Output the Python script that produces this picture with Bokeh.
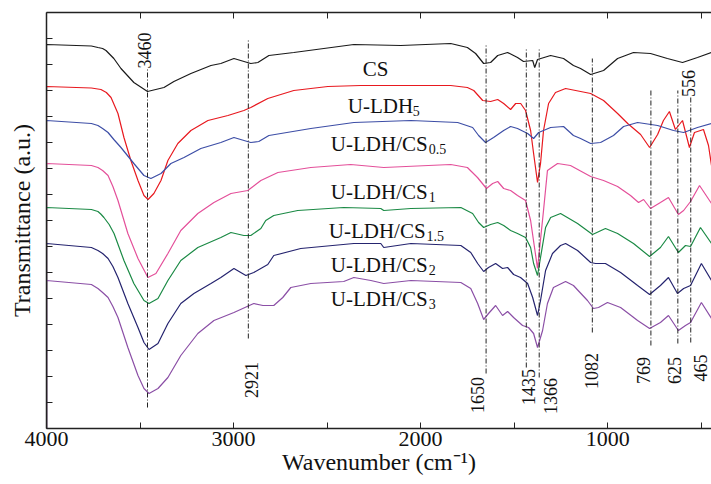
import numpy as np
from bokeh.plotting import figure
from bokeh.models import Range1d, LinearAxis, FixedTicker
from bokeh.core.properties import value
from bokeh.embed import file_html
from bokeh.resources import INLINE

FONT = "Liberation Serif"

# ---- spectra (wavenumber, transmittance in arbitrary offset units) ----
cs_wn = [4000, 3760, 3725, 3700, 3682, 3640, 3602, 3533, 3460, 3372, 3319, 3228, 3121, 3068, 2998, 2908,
         2870, 2811, 2678, 2357, 2106, 1839, 1750, 1706, 1663, 1626, 1588, 1535, 1482, 1450, 1401, 1390,
         1375, 1305, 1236, 1183, 1145, 1091, 1022, 947, 862, 771, 681, 600, 520, 445]
cs_t = [384, 382.5, 381, 380, 378, 370, 360, 346, 337, 341, 347, 355, 363, 365, 370, 365,
        366, 373, 376, 384, 383, 385, 381, 375, 365, 366, 373, 376, 371, 367, 368, 361,
        369, 373, 370, 363, 360, 354, 358, 370, 376, 375, 370, 366, 371, 376]

ldh5_wn = [4000, 3760, 3709, 3680, 3655, 3618, 3586, 3549, 3511, 3479, 3457, 3426, 3388, 3351, 3298, 3228,
           3137, 3030, 2945, 2908, 2817, 2678, 2496, 2320, 1839, 1750, 1716, 1668, 1626, 1588, 1556, 1519,
           1492, 1465, 1439, 1412, 1396, 1375, 1359, 1343, 1316, 1279, 1225, 1091, 1022, 947, 893, 824,
           776, 733, 702, 670, 638, 600, 563, 536, 488, 461, 445]
ldh5_t = [342, 340.5, 339, 336, 331, 315, 291, 268, 248, 233, 229, 235, 248, 268, 285, 298,
          308, 313, 318, 321, 330, 338, 342, 343, 343, 341, 338, 328, 327, 329, 325, 319,
          325, 325, 318, 298, 275, 246, 265, 298, 325, 336, 340, 335, 328, 315, 305, 294,
          281, 294, 308, 317, 299, 308, 281, 296, 299, 283, 263]

cs05_wn = [4000, 3760, 3725, 3700, 3671, 3640, 3602, 3533, 3479, 3442, 3388, 3335, 3265, 3175, 3068, 2998,
           2908, 2865, 2811, 2587, 2357, 2052, 1802, 1722, 1690, 1653, 1610, 1556, 1519, 1482, 1428, 1396,
           1369, 1305, 1236, 1183, 1145, 1091, 1038, 969, 915, 840, 733, 648, 594, 520, 445]
cs05_t = [308, 305, 303, 300, 296, 289, 281, 265, 253, 250, 255, 265, 271, 280, 286, 291,
          286, 287, 293, 300, 306, 308, 306, 301, 293, 286, 291, 298, 302, 300, 295, 290,
          296, 301, 302, 293, 290, 285, 286, 293, 302, 306, 303, 298, 296, 301, 305]

cs1_wn = [4000, 3760, 3725, 3700, 3671, 3645, 3618, 3565, 3511, 3458, 3415, 3351, 3282, 3191, 3105, 3014,
          2924, 2854, 2763, 2587, 2374, 2197, 1839, 1750, 1696, 1648, 1615, 1588, 1556, 1519, 1482, 1439,
          1412, 1375, 1343, 1322, 1268, 1199, 1091, 1022, 947, 878, 835, 808, 771, 718, 675, 622,
          594, 557, 509, 445]
cs1_t = [265, 263, 261, 258, 253, 242, 228, 195, 170, 151, 155, 175, 198, 215, 226, 235,
         238, 248, 256, 261, 264, 261, 264, 261, 251, 240, 245, 247, 240, 238, 233, 228,
         208, 160, 218, 258, 265, 263, 252, 248, 242, 233, 226, 229, 220, 226, 231, 214,
         218, 227, 243, 225]

cs15_wn = [4000, 3760, 3725, 3710, 3693, 3665, 3639, 3586, 3533, 3479, 3452, 3404, 3351, 3282, 3191, 3068,
           3014, 2945, 2908, 2854, 2828, 2785, 2657, 2411, 2213, 2197, 2052, 1785, 1722, 1690, 1663, 1626,
           1588, 1556, 1519, 1482, 1439, 1412, 1396, 1375, 1359, 1332, 1305, 1252, 1161, 1081, 1012, 947,
           862, 776, 718, 675, 622, 584, 557, 504, 445]
cs15_t = [221, 219, 217, 214.5, 211, 204, 195, 168, 145, 128, 125, 130, 148, 168, 181, 191,
          196, 193, 193, 200, 208, 213, 218, 221, 220, 218, 220, 221, 215, 206, 201, 204,
          206, 203, 198, 195, 191, 181, 165, 153, 171, 201, 211, 215, 205, 194, 200, 195,
          185, 172, 181, 192, 176, 183, 182, 201, 185]

cs2_wn = [4000, 3760, 3725, 3700, 3671, 3645, 3618, 3565, 3511, 3479, 3452, 3404, 3351, 3282, 3212, 3121,
          3068, 2998, 2934, 2892, 2817, 2785, 2641, 2357, 2213, 2197, 2052, 1785, 1732, 1695, 1663, 1637,
          1599, 1562, 1535, 1503, 1466, 1428, 1401, 1375, 1359, 1332, 1295, 1252, 1225, 1161, 1091, 1065,
          1012, 931, 840, 776, 718, 675, 627, 594, 557, 499, 445]
cs2_t = [185, 181, 178, 175, 170, 162, 151, 125, 101, 86, 79, 85, 105, 125, 135, 145,
         151, 160, 153, 156, 164, 173, 180, 185, 185, 181, 185, 183, 176, 165, 157, 161,
         165, 160, 161, 154, 151, 145, 131, 113, 128, 158, 175, 183, 185, 178, 166, 165,
         165, 156, 143, 134, 143, 151, 135, 140, 143, 165, 148]

cs3_wn = [4000, 3760, 3725, 3700, 3671, 3645, 3618, 3565, 3511, 3479, 3452, 3404, 3351, 3282, 3191, 3105,
          2998, 2892, 2843, 2785, 2737, 2694, 2587, 2411, 2357, 2266, 2197, 2052, 1785, 1732, 1695, 1663,
          1637, 1599, 1562, 1535, 1503, 1455, 1423, 1396, 1375, 1348, 1322, 1290, 1225, 1183, 1108, 1076,
          1049, 1001, 931, 840, 776, 718, 675, 622, 584, 557, 499, 445]
cs3_t = [148, 144, 140, 136, 131, 122, 111, 81, 53, 40, 35, 40, 51, 73, 95, 108,
         116, 125, 123, 123, 131, 141, 145, 147, 151, 148, 145, 148, 146, 140, 125, 109,
         115, 123, 113, 117, 111, 103, 101, 95, 81, 98, 125, 141, 147, 143, 128, 120,
         121, 126, 121, 108, 100, 106, 113, 98, 103, 106, 126, 110]

series_wn = [cs_wn, ldh5_wn, cs05_wn, cs1_wn, cs15_wn, cs2_wn, cs3_wn]
series_t = [cs_t, ldh5_t, cs05_t, cs1_t, cs15_t, cs2_t, cs3_t]
series_colors = ["#1a1a1a", "#e8191f", "#3d4ea6", "#e4509a", "#1b8a45", "#25246f", "#8b4fa6"]

# ---- curve labels ----
name_main = ["CS", "U-LDH", "U-LDH/CS", "U-LDH/CS", "U-LDH/CS", "U-LDH/CS", "U-LDH/CS"]
name_sub = ["", "5", "0.5", "1", "1.5", "2", "3"]
name_x = [2309, 2389, 2480, 2480, 2491, 2480, 2480]
name_y = [360, 323, 285, 237, 198, 164, 130]
sub_x = [2309, 2042, 1957, 1957, 1968, 1957, 1957]

# ---- marked band positions ----
peak_wn = [3460, 2921, 1650, 1435, 1366, 1082, 769, 625, 556]
peak_top = [360, 390, 385, 381, 381, 370, 338, 338, 331]
peak_bottom = [21, 90, 55, 61, 51, 96, 83, 85, 86]
peak_label = ["3460", "2921", "1650", "1435", "1366", "1082", "769", "625", "556", "465"]
peak_label_x = [3476, 2905, 1695, 1425, 1308, 1085, 808, 645, 568, 506]
peak_label_y = [378, 48.5, 33.5, 41.5, 32.5, 57.5, 58, 58, 345, 60.5]

x_major = [4000, 3000, 2000, 1000]
x_minor = [3500, 2500, 1500, 500]
y_ticks = [26, 52, 78, 104, 130, 156, 182, 208, 234, 260, 286, 312, 338, 364, 390]

p = figure(width=711, height=484, output_backend="svg", toolbar_location=None,
           x_range=Range1d(4000, 445), y_range=Range1d(0, 416),
           min_border_left=46, min_border_right=0, min_border_top=12, min_border_bottom=56,
           x_axis_location=None, y_axis_location=None)
p.outline_line_color = None
p.background_fill_color = "white"
p.border_fill_color = "white"
p.grid.visible = False


def style_axis(ax, show_labels):
    ax.axis_line_color = "#222222"
    ax.axis_line_width = 1.5
    ax.major_tick_in = 6
    ax.major_tick_out = 0
    ax.minor_tick_in = 6
    ax.minor_tick_out = 0
    ax.major_tick_line_color = "#222222"
    ax.minor_tick_line_color = "#222222"
    ax.major_label_text_font = FONT
    ax.axis_label_text_font = FONT
    ax.axis_label_text_font_style = "normal"
    ax.axis_label_text_color = "#111111"
    if show_labels:
        ax.major_label_text_font_size = "22px"
        ax.major_label_text_color = "#111111"
        ax.major_label_standoff = 3
    else:
        ax.major_label_text_font_size = "1px"
        ax.major_label_text_color = None
        ax.major_label_standoff = 0


bottom = LinearAxis(ticker=FixedTicker(ticks=x_major, minor_ticks=x_minor))
style_axis(bottom, True)
bottom.axis_label = "Wavenumber (cm\u207b\u00b9)"
bottom.axis_label_text_font_size = "24px"
bottom.axis_label_standoff = 0
p.add_layout(bottom, "below")

top = LinearAxis(ticker=FixedTicker(ticks=x_major, minor_ticks=x_minor))
style_axis(top, False)
p.add_layout(top, "above")

left = LinearAxis(ticker=FixedTicker(ticks=y_ticks))
style_axis(left, False)
left.minor_tick_in = 0
left.axis_label = "Transmittance (a.u.)"
left.axis_label_text_font_size = "24px"
left.axis_label_standoff = 12
p.add_layout(left, "left")

for wn, t, c in zip(series_wn, series_t, series_colors):
    p.line([wn[0]] + wn, [0] + t, line_color=c, line_width=1.2)

p.segment(x0=peak_wn, y0=peak_bottom, x1=peak_wn, y1=peak_top,
          line_color="#222222", line_width=1, line_dash="5 2 1 2")

p.text(x=peak_label_x, y=peak_label_y, text=peak_label, angle=np.pi / 2,
       text_align="center", text_baseline="middle", text_font=value(FONT),
       text_font_size="18px", text_color="#111111")

p.text(x=name_x, y=name_y, text=name_main, text_align="left", text_baseline="alphabetic",
       text_font=value(FONT), text_font_size="21px", text_color="#111111")
p.text(x=sub_x, y=[v - 5 for v in name_y], text=name_sub, text_align="left",
       text_baseline="alphabetic", text_font=value(FONT), text_font_size="14px",
       text_color="#111111")

open("out.html", "w").write(file_html(p, INLINE))
